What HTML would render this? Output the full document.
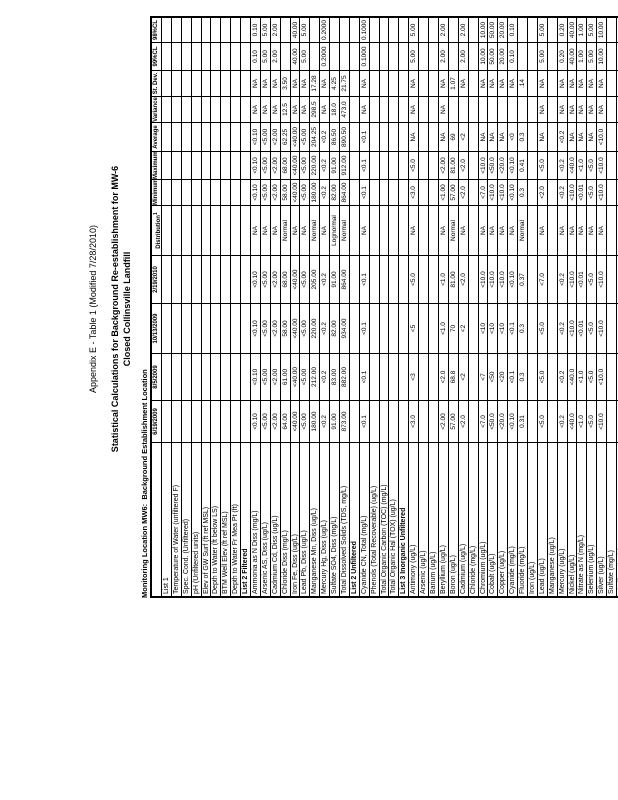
<!DOCTYPE html>
<html><head><meta charset="utf-8"><style>
html,body{margin:0;padding:0;background:#fff;}
body{width:618px;height:800px;position:relative;overflow:hidden;font-family:"Liberation Sans",sans-serif;color:#000;}
#land{position:absolute;left:0;top:800px;width:800px;height:618px;transform-origin:0 0;transform:rotate(-90deg);}
.t{position:absolute;left:291px;width:400px;text-align:center;font-size:9px;line-height:10px;white-space:nowrap;}
.b{font-weight:bold;}
#mon{position:absolute;left:202px;top:140px;font-size:7.5px;font-weight:bold;line-height:9px;white-space:nowrap;}
#tbl{position:absolute;left:202px;top:150px;width:578px;border-left:2px solid #000;border-top:2px solid #000;border-right:2px solid #000;}
.r{display:flex;height:9.9px;border-bottom:1px solid #000;box-sizing:border-box;}
.h{height:10px;}
.c{box-sizing:border-box;border-right:1px solid #000;font-size:6.5px;line-height:9px;text-align:center;white-space:nowrap;overflow:hidden;}
.c:last-child{border-right:none;}
.c:nth-child(1){width:154px;text-align:left;padding-left:2px;font-size:7px;}
.c:nth-child(2){width:42px}.c:nth-child(3){width:47px}.c:nth-child(4){width:50px}.c:nth-child(5){width:48px}
.c:nth-child(6){width:50px}.c:nth-child(7){width:26px}.c:nth-child(8){width:28px}.c:nth-child(9){width:29px}
.c:nth-child(10){width:26px}.c:nth-child(11){width:26px}.c:nth-child(12){width:28px}.c:nth-child(13){width:24px}
.h .c{font-weight:bold;font-size:6px;}
.s .c:nth-child(1){font-weight:bold;}
</style></head><body>
<div id="land">
<div class="t" style="top:88px">Appendix E - Table 1 (Modified 7/28/2010)</div>
<div class="t b" style="top:110px">Statistical Calculations for Background Re-establishment for MW-6</div>
<div class="t b" style="top:122px">Closed Collinsville Landfill</div>
<div id="mon">Monitoring Location MW6:&nbsp; Background Establishment Location</div>
<div id="tbl">
<div class="r h"><div class="c"></div><div class="c">6/19/2009</div><div class="c">8/5/2009</div><div class="c">10/13/2009</div><div class="c">2/19/2010</div><div class="c">Distribution<sup>1</sup></div><div class="c">Minimum</div><div class="c">Maximum</div><div class="c">Average</div><div class="c">Variance</div><div class="c">St. Dev.</div><div class="c">99%CL</div><div class="c">98%CL</div></div>
<div class="r"><div class="c">List 1</div><div class="c"></div><div class="c"></div><div class="c"></div><div class="c"></div><div class="c"></div><div class="c"></div><div class="c"></div><div class="c"></div><div class="c"></div><div class="c"></div><div class="c"></div><div class="c"></div></div>
<div class="r"><div class="c">Temperature of Water (unfiltered F)</div><div class="c"></div><div class="c"></div><div class="c"></div><div class="c"></div><div class="c"></div><div class="c"></div><div class="c"></div><div class="c"></div><div class="c"></div><div class="c"></div><div class="c"></div><div class="c"></div></div>
<div class="r"><div class="c">Spec. Cond. (Unfiltered)</div><div class="c"></div><div class="c"></div><div class="c"></div><div class="c"></div><div class="c"></div><div class="c"></div><div class="c"></div><div class="c"></div><div class="c"></div><div class="c"></div><div class="c"></div><div class="c"></div></div>
<div class="r"><div class="c">pH (Unfiltered units)</div><div class="c"></div><div class="c"></div><div class="c"></div><div class="c"></div><div class="c"></div><div class="c"></div><div class="c"></div><div class="c"></div><div class="c"></div><div class="c"></div><div class="c"></div><div class="c"></div></div>
<div class="r"><div class="c">Elev of GW Surf (ft ref MSL)</div><div class="c"></div><div class="c"></div><div class="c"></div><div class="c"></div><div class="c"></div><div class="c"></div><div class="c"></div><div class="c"></div><div class="c"></div><div class="c"></div><div class="c"></div><div class="c"></div></div>
<div class="r"><div class="c">Depth to Water (ft below LS)</div><div class="c"></div><div class="c"></div><div class="c"></div><div class="c"></div><div class="c"></div><div class="c"></div><div class="c"></div><div class="c"></div><div class="c"></div><div class="c"></div><div class="c"></div><div class="c"></div></div>
<div class="r"><div class="c">BTM Well Elev (ft ref MSL)</div><div class="c"></div><div class="c"></div><div class="c"></div><div class="c"></div><div class="c"></div><div class="c"></div><div class="c"></div><div class="c"></div><div class="c"></div><div class="c"></div><div class="c"></div><div class="c"></div></div>
<div class="r"><div class="c">Depth to Water Fr Mea Pt (ft)</div><div class="c"></div><div class="c"></div><div class="c"></div><div class="c"></div><div class="c"></div><div class="c"></div><div class="c"></div><div class="c"></div><div class="c"></div><div class="c"></div><div class="c"></div><div class="c"></div></div>
<div class="r s"><div class="c">List 2 Filtered</div><div class="c"></div><div class="c"></div><div class="c"></div><div class="c"></div><div class="c"></div><div class="c"></div><div class="c"></div><div class="c"></div><div class="c"></div><div class="c"></div><div class="c"></div><div class="c"></div></div>
<div class="r"><div class="c">Ammonia as N Diss (mg/L)</div><div class="c">&lt;0.10</div><div class="c">&lt;0.10</div><div class="c">&lt;0.10</div><div class="c">&lt;0.10</div><div class="c">NA</div><div class="c">&lt;0.10</div><div class="c">&lt;0.10</div><div class="c">&lt;0.10</div><div class="c">NA</div><div class="c">NA</div><div class="c">0.10</div><div class="c">0.10</div></div>
<div class="r"><div class="c">Arsenic AS, Diss (ug/L)</div><div class="c">&lt;5.00</div><div class="c">&lt;5.00</div><div class="c">&lt;5.00</div><div class="c">&lt;5.00</div><div class="c">NA</div><div class="c">&lt;5.00</div><div class="c">&lt;5.00</div><div class="c">&lt;5.00</div><div class="c">NA</div><div class="c">NA</div><div class="c">5.00</div><div class="c">5.00</div></div>
<div class="r"><div class="c">Cadmium Cd, Diss (ug/L)</div><div class="c">&lt;2.00</div><div class="c">&lt;2.00</div><div class="c">&lt;2.00</div><div class="c">&lt;2.00</div><div class="c">NA</div><div class="c">&lt;2.00</div><div class="c">&lt;2.00</div><div class="c">&lt;2.00</div><div class="c">NA</div><div class="c">NA</div><div class="c">2.00</div><div class="c">2.00</div></div>
<div class="r"><div class="c">Chloride Diss (mg/L)</div><div class="c">64.00</div><div class="c">61.00</div><div class="c">58.00</div><div class="c">68.00</div><div class="c">Normal</div><div class="c">58.00</div><div class="c">68.00</div><div class="c">62.25</div><div class="c">12.5</div><div class="c">3.50</div><div class="c"></div><div class="c"></div></div>
<div class="r"><div class="c">Iron Fe, Diss (ug/L)</div><div class="c">&lt;40.00</div><div class="c">&lt;40.00</div><div class="c">&lt;40.00</div><div class="c">&lt;40.00</div><div class="c">NA</div><div class="c">&lt;40.00</div><div class="c">&lt;40.00</div><div class="c">&lt;40.00</div><div class="c">NA</div><div class="c">NA</div><div class="c">40.00</div><div class="c">40.00</div></div>
<div class="r"><div class="c">Lead Pb, Diss (ug/L)</div><div class="c">&lt;5.00</div><div class="c">&lt;5.00</div><div class="c">&lt;5.00</div><div class="c">&lt;5.00</div><div class="c">NA</div><div class="c">&lt;5.00</div><div class="c">&lt;5.00</div><div class="c">&lt;5.00</div><div class="c">NA</div><div class="c">NA</div><div class="c">5.00</div><div class="c">5.00</div></div>
<div class="r"><div class="c">Manganese Mn, Diss (ug/L)</div><div class="c">180.00</div><div class="c">212.00</div><div class="c">220.00</div><div class="c">205.00</div><div class="c">Normal</div><div class="c">180.00</div><div class="c">220.00</div><div class="c">204.25</div><div class="c">298.5</div><div class="c">17.28</div><div class="c"></div><div class="c"></div></div>
<div class="r"><div class="c">Mercury Hg, Diss (ug/L)</div><div class="c">&lt;0.2</div><div class="c">&lt;0.2</div><div class="c">&lt;0.2</div><div class="c">&lt;0.2</div><div class="c">NA</div><div class="c">&lt;0.2</div><div class="c">&lt;0.2</div><div class="c">&lt;0.2</div><div class="c">NA</div><div class="c">NA</div><div class="c">0.2000</div><div class="c">0.2000</div></div>
<div class="r"><div class="c">Sulfate SO4, Diss (mg/L)</div><div class="c">91.00</div><div class="c">83.00</div><div class="c">82.00</div><div class="c">91.00</div><div class="c">Lognormal</div><div class="c">82.00</div><div class="c">91.00</div><div class="c">86.50</div><div class="c">18.0</div><div class="c">4.25</div><div class="c"></div><div class="c"></div></div>
<div class="r"><div class="c">Total Dissolved Solids (TDS, mg/L)</div><div class="c">873.00</div><div class="c">882.00</div><div class="c">934.00</div><div class="c">864.00</div><div class="c">Normal</div><div class="c">864.00</div><div class="c">912.00</div><div class="c">890.50</div><div class="c">473.0</div><div class="c">21.75</div><div class="c"></div><div class="c"></div></div>
<div class="r s"><div class="c">List 2 Unfiltered</div><div class="c"></div><div class="c"></div><div class="c"></div><div class="c"></div><div class="c"></div><div class="c"></div><div class="c"></div><div class="c"></div><div class="c"></div><div class="c"></div><div class="c"></div><div class="c"></div></div>
<div class="r"><div class="c">Cyanide CN, Total (mg/L)</div><div class="c">&lt;0.1</div><div class="c">&lt;0.1</div><div class="c">&lt;0.1</div><div class="c">&lt;0.1</div><div class="c">NA</div><div class="c">&lt;0.1</div><div class="c">&lt;0.1</div><div class="c">&lt;0.1</div><div class="c">NA</div><div class="c">NA</div><div class="c">0.1000</div><div class="c">0.1000</div></div>
<div class="r"><div class="c">Phenols (Total Recoverable) (ug/L)</div><div class="c"></div><div class="c"></div><div class="c"></div><div class="c"></div><div class="c"></div><div class="c"></div><div class="c"></div><div class="c"></div><div class="c"></div><div class="c"></div><div class="c"></div><div class="c"></div></div>
<div class="r"><div class="c">Total Organic Carbon (TOC) (mg/L)</div><div class="c"></div><div class="c"></div><div class="c"></div><div class="c"></div><div class="c"></div><div class="c"></div><div class="c"></div><div class="c"></div><div class="c"></div><div class="c"></div><div class="c"></div><div class="c"></div></div>
<div class="r"><div class="c">Total Organic Hal (TOX) (ug/L)</div><div class="c"></div><div class="c"></div><div class="c"></div><div class="c"></div><div class="c"></div><div class="c"></div><div class="c"></div><div class="c"></div><div class="c"></div><div class="c"></div><div class="c"></div><div class="c"></div></div>
<div class="r s"><div class="c">List 3 Inorganic Unfiltered</div><div class="c"></div><div class="c"></div><div class="c"></div><div class="c"></div><div class="c"></div><div class="c"></div><div class="c"></div><div class="c"></div><div class="c"></div><div class="c"></div><div class="c"></div><div class="c"></div></div>
<div class="r"><div class="c">Antimony (ug/L)</div><div class="c">&lt;3.0</div><div class="c">&lt;3</div><div class="c">&lt;5</div><div class="c">&lt;5.0</div><div class="c">NA</div><div class="c">&lt;3.0</div><div class="c">&lt;5.0</div><div class="c">NA</div><div class="c">NA</div><div class="c">NA</div><div class="c">5.00</div><div class="c">5.00</div></div>
<div class="r"><div class="c">Arsenic (ug/L)</div><div class="c"></div><div class="c"></div><div class="c"></div><div class="c"></div><div class="c"></div><div class="c"></div><div class="c"></div><div class="c"></div><div class="c"></div><div class="c"></div><div class="c"></div><div class="c"></div></div>
<div class="r"><div class="c">Barium (ug/L)</div><div class="c"></div><div class="c"></div><div class="c"></div><div class="c"></div><div class="c"></div><div class="c"></div><div class="c"></div><div class="c"></div><div class="c"></div><div class="c"></div><div class="c"></div><div class="c"></div></div>
<div class="r"><div class="c">Beryllium (ug/L)</div><div class="c">&lt;2.00</div><div class="c">&lt;2.0</div><div class="c">&lt;1.0</div><div class="c">&lt;1.0</div><div class="c">NA</div><div class="c">&lt;1.00</div><div class="c">&lt;2.00</div><div class="c">NA</div><div class="c">NA</div><div class="c">NA</div><div class="c">2.00</div><div class="c">2.00</div></div>
<div class="r"><div class="c">Boron (ug/L)</div><div class="c">57.00</div><div class="c">68.8</div><div class="c">70</div><div class="c">81.00</div><div class="c">Normal</div><div class="c">57.00</div><div class="c">81.00</div><div class="c">69</div><div class="c"></div><div class="c">1.07</div><div class="c"></div><div class="c"></div></div>
<div class="r"><div class="c">Cadmium (ug/L)</div><div class="c">&lt;2.0</div><div class="c">&lt;2</div><div class="c">&lt;2</div><div class="c">&lt;2.0</div><div class="c">NA</div><div class="c">&lt;2.0</div><div class="c">&lt;2.0</div><div class="c">&lt;2</div><div class="c"></div><div class="c">NA</div><div class="c">2.00</div><div class="c">2.00</div></div>
<div class="r"><div class="c">Chloride (mg/L)</div><div class="c"></div><div class="c"></div><div class="c"></div><div class="c"></div><div class="c"></div><div class="c"></div><div class="c"></div><div class="c"></div><div class="c"></div><div class="c"></div><div class="c"></div><div class="c"></div></div>
<div class="r"><div class="c">Chromium (ug/L)</div><div class="c">&lt;7.0</div><div class="c">&lt;7</div><div class="c">&lt;10</div><div class="c">&lt;10.0</div><div class="c">NA</div><div class="c">&lt;7.0</div><div class="c">&lt;10.0</div><div class="c">NA</div><div class="c"></div><div class="c">NA</div><div class="c">10.00</div><div class="c">10.00</div></div>
<div class="r"><div class="c">Cobalt (ug/L)</div><div class="c">&lt;50.0</div><div class="c">&lt;50</div><div class="c">&lt;10</div><div class="c">&lt;10.0</div><div class="c">NA</div><div class="c">&lt;10.0</div><div class="c">&lt;50.0</div><div class="c">NA</div><div class="c"></div><div class="c">NA</div><div class="c">50.00</div><div class="c">50.00</div></div>
<div class="r"><div class="c">Copper (ug/L)</div><div class="c">&lt;20.0</div><div class="c">&lt;20</div><div class="c">&lt;10</div><div class="c">&lt;10.0</div><div class="c">NA</div><div class="c">&lt;10.0</div><div class="c">&lt;20.0</div><div class="c">NA</div><div class="c"></div><div class="c">NA</div><div class="c">20.00</div><div class="c">20.00</div></div>
<div class="r"><div class="c">Cyanide (mg/L)</div><div class="c">&lt;0.10</div><div class="c">&lt;0.1</div><div class="c">&lt;0.1</div><div class="c">&lt;0.10</div><div class="c">NA</div><div class="c">&lt;0.10</div><div class="c">&lt;0.10</div><div class="c">&lt;0</div><div class="c"></div><div class="c">NA</div><div class="c">0.10</div><div class="c">0.10</div></div>
<div class="r"><div class="c">Fluoride (mg/L)</div><div class="c">0.31</div><div class="c">0.3</div><div class="c">0.3</div><div class="c">0.37</div><div class="c">Normal</div><div class="c">0.3</div><div class="c">0.41</div><div class="c">0.3</div><div class="c"></div><div class="c">.14</div><div class="c"></div><div class="c"></div></div>
<div class="r"><div class="c">Iron (ug/L)</div><div class="c"></div><div class="c"></div><div class="c"></div><div class="c"></div><div class="c"></div><div class="c"></div><div class="c"></div><div class="c"></div><div class="c"></div><div class="c"></div><div class="c"></div><div class="c"></div></div>
<div class="r"><div class="c">Lead (ug/L)</div><div class="c">&lt;5.0</div><div class="c">&lt;5.0</div><div class="c">&lt;5.0</div><div class="c">&lt;7.0</div><div class="c">NA</div><div class="c">&lt;2.0</div><div class="c">&lt;5.0</div><div class="c">NA</div><div class="c">NA</div><div class="c">NA</div><div class="c">5.00</div><div class="c">5.00</div></div>
<div class="r"><div class="c">Manganese (ug/L)</div><div class="c"></div><div class="c"></div><div class="c"></div><div class="c"></div><div class="c"></div><div class="c"></div><div class="c"></div><div class="c"></div><div class="c"></div><div class="c"></div><div class="c"></div><div class="c"></div></div>
<div class="r"><div class="c">Mercury (ug/L)</div><div class="c">&lt;0.2</div><div class="c">&lt;0.2</div><div class="c">&lt;0.2</div><div class="c">&lt;0.2</div><div class="c">NA</div><div class="c">&lt;0.2</div><div class="c">&lt;0.2</div><div class="c">&lt;0.2</div><div class="c">NA</div><div class="c">NA</div><div class="c">0.20</div><div class="c">0.20</div></div>
<div class="r"><div class="c">Nickel (ug/L)</div><div class="c">&lt;40.0</div><div class="c">&lt;40.0</div><div class="c">&lt;10.0</div><div class="c">&lt;10.0</div><div class="c">NA</div><div class="c">&lt;10.0</div><div class="c">&lt;40.0</div><div class="c">NA</div><div class="c">NA</div><div class="c">NA</div><div class="c">40.00</div><div class="c">40.00</div></div>
<div class="r"><div class="c">Nitrate as N (mg/L)</div><div class="c">&lt;1.0</div><div class="c">&lt;1.0</div><div class="c">&lt;0.01</div><div class="c">&lt;0.01</div><div class="c">NA</div><div class="c">&lt;0.01</div><div class="c">&lt;1.0</div><div class="c">NA</div><div class="c">NA</div><div class="c">NA</div><div class="c">1.00</div><div class="c">1.00</div></div>
<div class="r"><div class="c">Selenium (ug/L)</div><div class="c">&lt;5.0</div><div class="c">&lt;5.0</div><div class="c">&lt;5.0</div><div class="c">&lt;5.0</div><div class="c">NA</div><div class="c">&lt;5.0</div><div class="c">&lt;5.0</div><div class="c">NA</div><div class="c">NA</div><div class="c">NA</div><div class="c">5.00</div><div class="c">5.00</div></div>
<div class="r"><div class="c">Silver (ug/L)</div><div class="c">&lt;10.0</div><div class="c">&lt;10.0</div><div class="c">&lt;10.0</div><div class="c">&lt;10.0</div><div class="c">NA</div><div class="c">&lt;10.0</div><div class="c">&lt;10.0</div><div class="c">&lt;10.0</div><div class="c">NA</div><div class="c">NA</div><div class="c">10.00</div><div class="c">10.00</div></div>
<div class="r"><div class="c">Sulfate (mg/L)</div><div class="c"></div><div class="c"></div><div class="c"></div><div class="c"></div><div class="c"></div><div class="c"></div><div class="c"></div><div class="c"></div><div class="c"></div><div class="c"></div><div class="c"></div><div class="c"></div></div>
<div class="r"><div class="c">Thallium (ug/L)</div><div class="c"></div><div class="c"></div><div class="c"></div><div class="c"></div><div class="c"></div><div class="c"></div><div class="c"></div><div class="c"></div><div class="c"></div><div class="c"></div><div class="c"></div><div class="c"></div></div>
</div>
</div>
</body></html>
